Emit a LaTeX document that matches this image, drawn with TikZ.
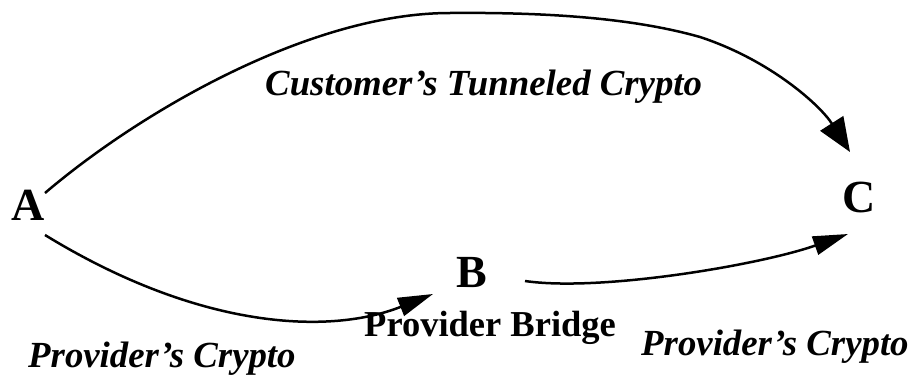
\documentclass[tikz,border=0pt]{standalone}
\usepackage{fontspec}
\setmainfont{Liberation Serif}
\usetikzlibrary{arrows.meta}
\begin{document}
\begin{tikzpicture}[x=1pt,y=-1pt,
  letter/.style={font=\fontsize{46}{50}\selectfont\bfseries, inner sep=0pt, anchor=base west},
  itlabel/.style={font=\fontsize{36.8}{40}\selectfont\bfseries\itshape, inner sep=0pt, anchor=base west},
  bdlabel/.style={font=\fontsize{36.5}{40}\selectfont\bfseries, inner sep=0pt, anchor=base west},
  conn/.style={line width=2.5pt},
  bighead/.style={-{Triangle[length=34pt,width=27pt]}},
  smallhead/.style={-{Triangle[length=35pt,width=19pt]}}]
\useasboundingbox (0,0) rectangle (917,375);
\node[letter] (A) at (11,220) {A};
\node[letter] (B) at (456,287) {B};
\node[letter] (C) at (842,212) {C};
\node[itlabel] (tun) at (265,95) {Customer’s Tunneled Crypto};
\node[itlabel] (pc1) at (28,367) {Provider’s Crypto};
\node[itlabel] (pc2) at (641,355) {Provider’s Crypto};
\node[bdlabel] (pb) at (364,336) {Provider Bridge};
\coordinate (Atop) at (45,193);
\coordinate (Abot) at (45,235);
\coordinate (Bin) at (433,294);
\coordinate (Bout) at (525,281);
\coordinate (Cin1) at (850,152);
\coordinate (Cin2) at (848,234);
\draw[conn,bighead] (Atop) .. controls (140,112) and (310,13) .. (450,13)
  .. controls (560,12) and (640,20) .. (700,37)
  .. controls (770,60) and (820,105) .. (Cin1);
\draw[conn,smallhead] (Abot) .. controls (200,330) and (330,335) .. (Bin);
\draw[conn,smallhead] (Bout) .. controls (600,292) and (760,265) .. (Cin2);
\end{tikzpicture}
\end{document}
